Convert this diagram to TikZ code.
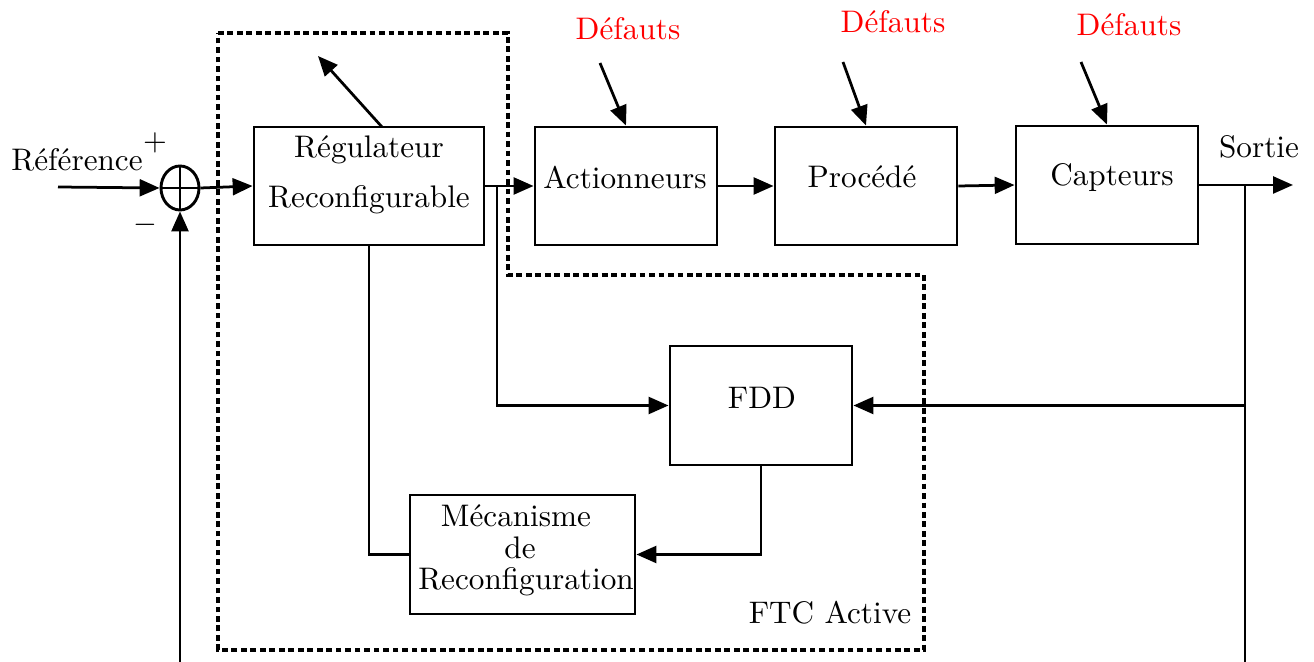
\documentclass[tikz,border=0pt]{standalone}
\usetikzlibrary{arrows.meta,shapes.geometric,fit}
\def\pxu{0.327pt}
\tikzset{
  every picture/.style={x=0.327pt,y=-0.327pt},
  box/.style={draw,line width=0.95pt,inner sep=0pt,rectangle},
  txt/.style={inner sep=0pt,font=\fontsize{10.2}{12}\selectfont},
  red txt/.style={txt,text=red},
  arr/.style={line width=0.9pt,-{Triangle[length=6.5pt,width=5.5pt]}},
  ln/.style={line width=0.9pt},
  dashbox/.style={line width=1.05pt,dash pattern=on 1.9pt off 1.2pt}
}
\begin{document}
\begin{tikzpicture}
\useasboundingbox (0,0) rectangle (1314,662);
% dashed FTC region
\draw[dashbox] (218,33) -- (508,33) -- (508,275) -- (924,275) -- (924,650) -- (218,650) -- cycle;
% blocks
\node[box,fit={(254,127) (484,245)}] (reg) {};
\node[txt] (regt1) at (369,150) {Régulateur};
\node[txt] (regt2) at (369,200) {Reconfigurable};
\node[box,fit={(535,127) (717,245)}] (act) {};
\node[txt] (actt) at (625,178) {Actionneurs};
\node[box,fit={(775,127) (957,245)}] (proc) {};
\node[txt] (proct) at (862,177) {Procédé};
\node[box,fit={(1016,126) (1198,244)}] (capt) {};
\node[txt] (captt) at (1112,178) {Capteurs};
\node[box,fit={(670,346) (852,465)}] (fdd) {};
\node[txt] (fddt) at (762,398) {FDD};
\node[box,fit={(410,495) (635,614)}] (meca) {};
\node[txt] (mecat1) at (516,516) {Mécanisme};
\node[txt] (mecat2) at (520,548) {de};
\node[txt] (mecat3) at (526,582) {Reconfiguration};
% summing junction
\node[draw,ellipse,line width=0.95pt,minimum width=38*\pxu,minimum height=44*\pxu,inner sep=0pt] (sum) at (180,188) {};
\draw[ln] (sum.north) -- (sum.south);
\draw[ln] (sum.west) -- (sum.east);
% labels
\node[txt] (ref) at (77,160) {Référence};
\node[txt] (plus) at (155,143) {$+$};
\node[txt] (minus) at (145,225) {$-$};
\node[txt] (sortie) at (1259,147) {Sortie};
\node[red txt] (d1) at (628,29) {Défauts};
\node[red txt] (d2) at (893,22) {Défauts};
\node[red txt] (d3) at (1129,25) {Défauts};
\node[txt] (ftc) at (830,613) {FTC Active};
% coordinates
\coordinate (in) at (58,187);
\coordinate (bot1) at (180,662);
\coordinate (adjs) at (382,127);
\coordinate (adje) at (318,56);
\coordinate (br1) at (497,186);
\coordinate (br2) at (1245,185);
\coordinate (out) at (1293,185);
\coordinate (bot2) at (1245,662);
\coordinate (d1s) at (600,63);
\coordinate (d2s) at (843,62);
\coordinate (d3s) at (1081,62);
% connectors
\draw[arr] (in) -- (sum.west);
\draw[arr] (bot1) -- (sum.south);
\draw[arr] (sum.east) -- (reg.west);
\draw[arr] (adjs) -- (adje);
\draw[arr] (reg.east) -- (act.west);
\draw[arr] (br1) |- (fdd.west);
\draw[arr] (act.east) -- (proc.west);
\draw[arr] (proc.east) -- (capt.west);
\draw[arr] (capt.east) -- (out);
\draw[ln] (br2) -- (bot2);
\draw[arr] (br2 |- fdd.east) -- (fdd.east);
\draw[arr] (fdd.south) |- (meca.east);
\draw[ln] (meca.west) -| (reg.south);
\draw[arr] (d1s) -- (act.north);
\draw[arr] (d2s) -- (proc.north);
\draw[arr] (d3s) -- (capt.north);
\end{tikzpicture}
\end{document}
